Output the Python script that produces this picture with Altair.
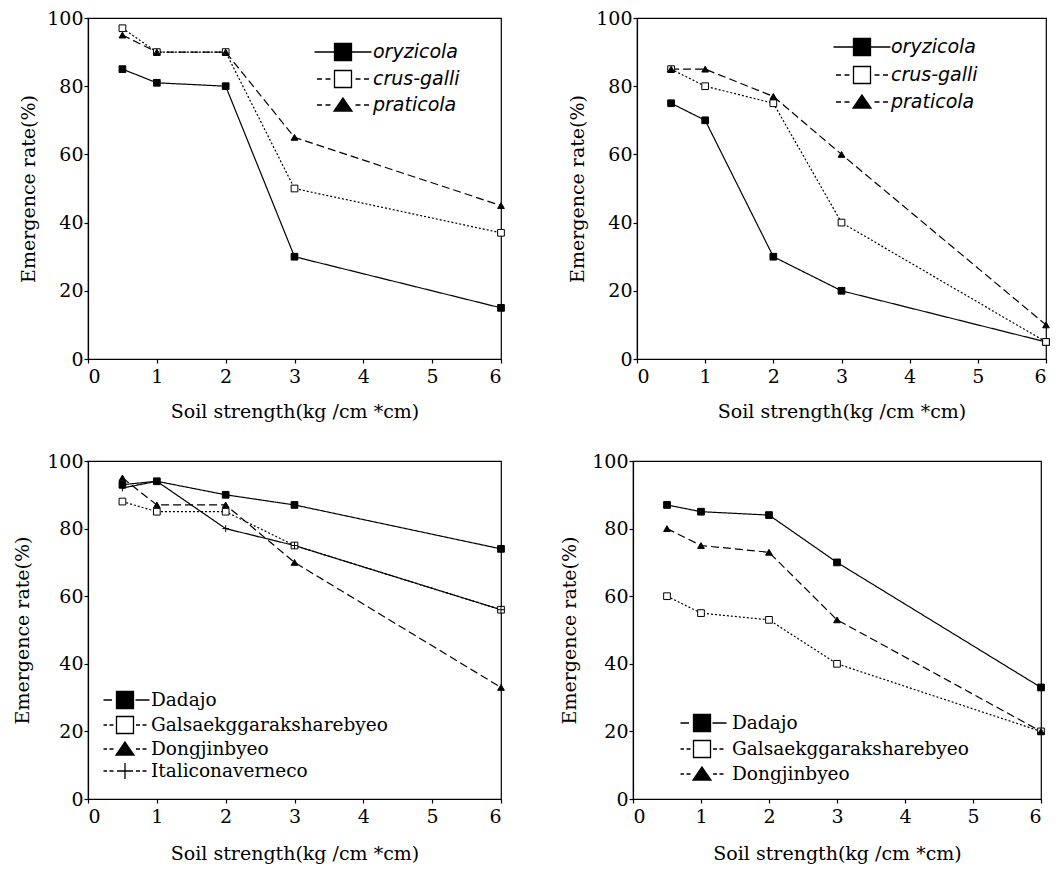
import altair as alt
import pandas as pd

# ---------------- data ----------------
x_vals = [0.5, 1, 2, 3, 6]

p1_names = ["oryzicola", "crus-galli", "praticola"]
p1_oryzicola = [85, 81, 80, 30, 15]
p1_crus_galli = [97, 90, 90, 50, 37]
p1_praticola = [95, 90, 90, 65, 45]

p2_names = ["oryzicola", "crus-galli", "praticola"]
p2_oryzicola = [75, 70, 30, 20, 5]
p2_crus_galli = [85, 80, 75, 40, 5]
p2_praticola = [85, 85, 77, 60, 10]

p3_names = ["Dadajo", "Galsaekggaraksharebyeo", "Dongjinbyeo", "Italiconaverneco"]
p3_dadajo = [93, 94, 90, 87, 74]
p3_galsaek = [88, 85, 85, 75, 56]
p3_dongjin = [95, 87, 87, 70, 33]
p3_italicon = [92, 94, 80, 75, 56]

p4_names = ["Dadajo", "Galsaekggaraksharebyeo", "Dongjinbyeo"]
p4_dadajo = [87, 85, 84, 70, 33]
p4_galsaek = [60, 55, 53, 40, 20]
p4_dongjin = [80, 75, 73, 53, 20]

x_title = "Soil strength(kg /cm *cm)"
y_title = "Emergence rate(%)"
x_ticks = [0, 1, 2, 3, 4, 5, 6]
y_ticks = [0, 20, 40, 60, 80, 100]

# ---------------- styles ----------------
SERIF = "DejaVu Serif"
SANS = "DejaVu Sans"

DASH = {
    "solid": [1, 0],
    "dotted": [2, 2],
    "dashed": [8, 4],
    "dashed2": [5, 4],
}
MARKER = {
    "solid": "square",
    "dotted": "square",
    "dashed": "triangle-up",
    "dashed2": "M-1,0H1M0,-1V1",
}
FILL = {"solid": "black", "dotted": "white", "dashed": "black", "dashed2": "black"}

SQ = "M-0.85,-0.85H0.85V0.85H-0.85Z"
TRI = "M0,-0.7L0.9,0.6H-0.9Z"
PLUS = "M-0.8,0H0.8M0,-0.8V0.8"
LEGEND_PATH_TOP = {
    "solid": "M-2.85,0H-0.85" + SQ + "M0.85,0H2.85",
    "dotted": "M-2.6,0H-2.1M-1.75,0H-1.25" + SQ + "M1.25,0H1.75M2.1,0H2.6",
    "dashed": "M-2.6,0H-2.1M-1.75,0H-1.25" + TRI + "M1.25,0H1.75M2.1,0H2.6",
    "dashed2": "M-2.6,0H-2.1M-1.75,0H-1.25" + PLUS + "M1.25,0H1.75M2.1,0H2.6",
}
LEGEND_PATH_BOTTOM = {
    "solid": "M-2.15,0H-1.3" + SQ + "M1.05,0H2.45",
    "dotted": "M-2.15,0H-1.8M-1.55,0H-1.15" + SQ + "M1.1,0H1.5M1.75,0H2.15",
    "dashed": "M-2.15,0H-1.8M-1.55,0H-1.15" + TRI + "M1.1,0H1.5M1.75,0H2.15",
    "dashed2": "M-2.15,0H-1.8M-1.55,0H-1.15" + PLUS + "M1.1,0H1.5M1.75,0H2.15",
}


def make_panel(series_lists, names, styles, legend_paths, legend_font, legend_style,
               legend_font_size, lx, ly, row_pad, label_offset, w, h,
               y_title_pad, x_title_pad):
    rows = []
    for name, vals in zip(names, series_lists):
        for xv, yv in zip(x_vals, vals):
            rows.append({"series": name, "x": xv, "y": yv})
    df = pd.DataFrame(rows)

    x = alt.X("x:Q", scale=alt.Scale(domain=[0, 6], nice=False, zero=False),
              axis=alt.Axis(values=x_ticks, title=x_title, format="d",
                            titlePadding=x_title_pad, labelPadding=4))
    y = alt.Y("y:Q", scale=alt.Scale(domain=[0, 100], nice=False),
              axis=alt.Axis(values=y_ticks, title=y_title, titlePadding=y_title_pad,
                            labelPadding=1))

    dash_range = [DASH[s] for s in styles]
    marker_range = [MARKER[s] for s in styles]
    fill_range = [FILL[s] for s in styles]
    legend_range = [legend_paths[s] for s in styles]
    stroke_range = ["black" for s in styles]

    legend = alt.Legend(
        title=None, orient="none", legendX=lx, legendY=ly,
        labelFont=legend_font, labelFontSize=legend_font_size,
        labelFontStyle=legend_style, labelColor="black", labelLimit=0,
        symbolSize=400, symbolOffset=18, labelOffset=label_offset,
        rowPadding=row_pad, padding=0, symbolStrokeWidth=1.3,
    )

    base = alt.Chart(df)
    lines = base.mark_line(color="black", strokeWidth=1.2).encode(
        x=x, y=y, detail="series:N",
        strokeDash=alt.StrokeDash("series:N",
                                  scale=alt.Scale(domain=names, range=dash_range),
                                  legend=None),
    )
    pts = base.mark_point(filled=True, stroke="black", strokeWidth=1,
                          opacity=1, size=45).encode(
        x=x, y=y,
        shape=alt.Shape("series:N", scale=alt.Scale(domain=names, range=marker_range),
                        legend=None),
        fill=alt.Fill("series:N", scale=alt.Scale(domain=names, range=fill_range),
                      legend=None),
    )
    leg = base.transform_filter("false").mark_point(
        filled=True, strokeWidth=1.3, opacity=1).encode(
        x=x, y=y,
        shape=alt.Shape("series:N", scale=alt.Scale(domain=names, range=legend_range),
                        legend=legend),
        fill=alt.Fill("series:N", scale=alt.Scale(domain=names, range=fill_range),
                      legend=legend),
        stroke=alt.Stroke("series:N", scale=alt.Scale(domain=names, range=stroke_range),
                          legend=legend),
    )
    return alt.layer(lines, pts, leg).resolve_scale(
        shape="independent", fill="independent", stroke="independent"
    ).properties(width=w, height=h)


p1 = make_panel([p1_oryzicola, p1_crus_galli, p1_praticola], p1_names,
                ["solid", "dotted", "dashed"], LEGEND_PATH_TOP, SANS, "italic", 19,
                226, 23, 3, 19, 413, 341, 8, 16)
p2 = make_panel([p2_oryzicola, p2_crus_galli, p2_praticola], p2_names,
                ["solid", "dotted", "dashed"], LEGEND_PATH_TOP, SANS, "italic", 19,
                196, 18, 4, 18, 409, 341, 8, 16)
p3 = make_panel([p3_dadajo, p3_galsaek, p3_dongjin, p3_italicon], p3_names,
                ["solid", "dotted", "dashed", "dashed2"], LEGEND_PATH_BOTTOM, SERIF,
                "normal", 18.5, 8, 228, 1, 15, 413, 338, 14, 18)
p4 = make_panel([p4_dadajo, p4_galsaek, p4_dongjin], p4_names,
                ["solid", "dotted", "dashed"], LEGEND_PATH_BOTTOM, SERIF,
                "normal", 18.5, 40, 251, 2, 19, 408, 338, 12, 18)

chart = alt.vconcat(
    alt.hconcat(p1, p2, spacing=61),
    alt.hconcat(p3, p4, spacing=53),
    spacing=29,
).properties(
    padding={"left": 5, "top": 0, "right": 0, "bottom": 0}
).configure_axis(
    domainColor="black", tickColor="black", labelColor="black", titleColor="black",
    labelFont=SERIF, titleFont=SERIF, labelFontSize=19, titleFontSize=19,
    titleFontWeight="normal", grid=False, tickSize=4, domainWidth=1.2, tickWidth=1.2,
).configure_view(stroke="black", strokeWidth=1.2)

chart.save("out.html", embed_options={"renderer": "svg", "actions": False})
